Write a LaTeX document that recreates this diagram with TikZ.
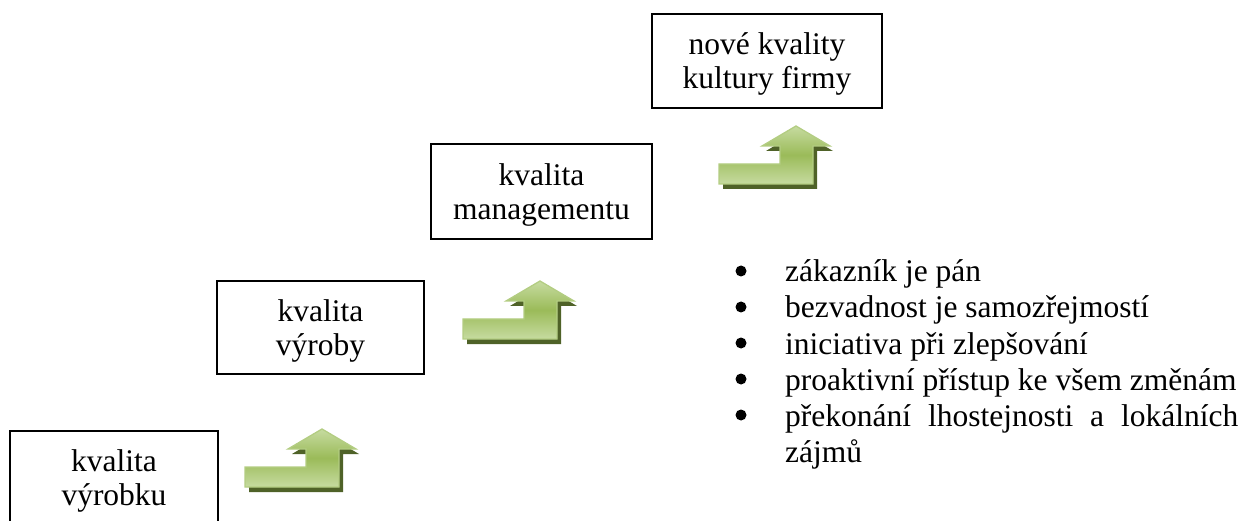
\documentclass[tikz,border=0pt]{standalone}
\usepackage{fontspec}
\setmainfont{Liberation Serif}
\definecolor{arrowmid}{HTML}{9BBB59}
\definecolor{arrowlight}{HTML}{C6DBA0}
\definecolor{arrowedge}{HTML}{B3CD82}
\definecolor{arrowshadow}{HTML}{4F6228}
% extra height on the first line of a box label
\newcommand\firstline{\rule{0pt}{28pt}}
% green step arrow; #1 = bottom-left corner of its horizontal bar
\newcommand\greenstep[1]{%
  \begin{scope}[shift={#1}]
    \fill[arrowshadow] (4,5) -- (98,5) -- (98,-33) -- (114,-33) -- (80,-53)
      -- (47,-33) -- (65,-33) -- (65,-14) -- (4,-14) -- cycle;
    \draw[draw=arrowedge, line width=1.3pt, line join=miter,
      top color=arrowlight, bottom color=arrowlight, middle color=arrowmid]
      (0,0) -- (94,0) -- (94,-38) -- (111,-38) -- (77,-58)
      -- (43,-38) -- (61,-38) -- (61,-20) -- (0,-20) -- cycle;
  \end{scope}}
\begin{document}
\begin{tikzpicture}[x=1pt, y=-1pt,
  stage/.style={draw=black, line width=1.5pt, align=center, inner sep=0pt,
    font=\fontsize{31.5}{34}\selectfont},
  itemtext/.style={anchor=base west, inner sep=0pt,
    font=\fontsize{31.5}{36}\selectfont},
  dot/.style={circle, fill=black, inner sep=0pt, minimum size=11pt}]
\useasboundingbox (0,0) rectangle (1253,521);
\begin{scope}
\clip (0,0) rectangle (1253,521);

% the four quality levels
\node[stage, minimum width=208pt, minimum height=94pt] (product) at (114,478)
  {\firstline kvalita\\výrobku};
\node[stage, minimum width=207pt, minimum height=93pt] (production) at (320.5,327.5)
  {\firstline kvalita\\výroby};
\node[stage, minimum width=221pt, minimum height=95pt] (management) at (541.5,191.5)
  {\firstline kvalita\\managementu};
\node[stage, minimum width=230pt, minimum height=94pt] (culture) at (767,61)
  {\firstline nové kvality\\kultury firmy};

% step arrows between the levels
\greenstep{(245,487)}
\greenstep{(463,339)}
\greenstep{(719,184)}

% features of the firm culture
\node[dot] (d1) at (741,271) {};
\node[dot] (d2) at (741,307) {};
\node[dot] (d3) at (741,343) {};
\node[dot] (d4) at (741,379) {};
\node[dot] (d5) at (741,415) {};
\node[itemtext] (i1) at (785,282) {zákazník je pán};
\node[itemtext] (i2) at (785,318) {bezvadnost je samozřejmostí};
\node[itemtext] (i3) at (785,354) {iniciativa při zlepšování};
\node[itemtext] (i4) at (785,390) {proaktivní přístup ke všem změnám};
\node[itemtext] (i5) at (785,426) {\makebox[453pt][s]{překonání lhostejnosti a lokálních}};
\node[itemtext] (i5b) at (785,462) {zájmů};
\end{scope}
\end{tikzpicture}
\end{document}
